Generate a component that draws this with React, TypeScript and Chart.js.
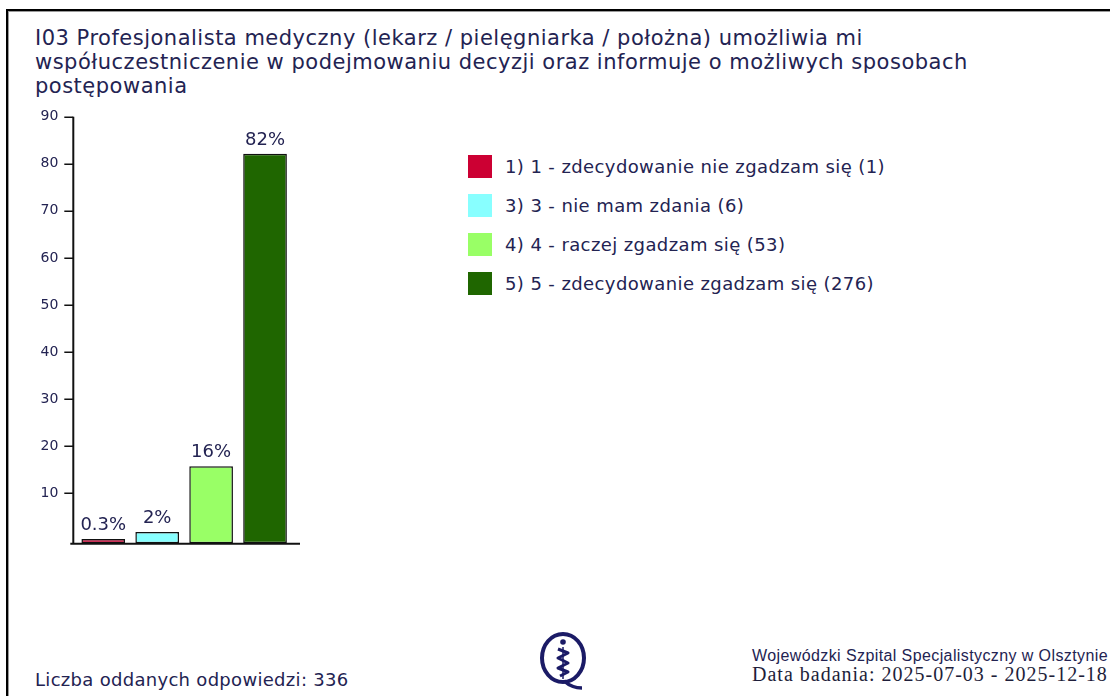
import React, { useEffect, useRef } from "react";
import { Chart, registerables } from "chart.js";

Chart.register(...registerables);

const titleLines = [
  "I03 Profesjonalista medyczny (lekarz / pielęgniarka / położna) umożliwia mi",
  "współuczestniczenie w podejmowaniu decyzji oraz informuje o możliwych sposobach",
  "postępowania",
];
const categories = [
  "1) 1 - zdecydowanie nie zgadzam się",
  "3) 3 - nie mam zdania",
  "4) 4 - raczej zgadzam się",
  "5) 5 - zdecydowanie zgadzam się",
];
const counts = [1, 6, 53, 276];
const totalResponses = 336;
const barColors = ["#cc0033", "#88ffff", "#99ff66", "#1f6600"];
const yMin = 0;
const yMax = 90;
const yStep = 10;
const barBase = -0.6;
const footerLeft = "Liczba oddanych odpowiedzi: " + totalResponses;
const footerInstitution = "Wojewódzki Szpital Specjalistyczny w Olsztynie";
const footerDate = "Data badania: 2025-07-03 - 2025-12-18";

const percents = counts.map((c) => (c / totalResponses) * 100);
const pctLabel = (p: number) => (p < 1 ? p.toFixed(1) : String(Math.round(p))) + "%";

const NAVY = "#232352";
const SANS = "'DejaVu Sans', Verdana, sans-serif";

const axesPlugin = {
  id: "axesAndLabels",
  afterDatasetsDraw(chart: any) {
    const { ctx, chartArea, scales } = chart;
    const y = scales.y;
    const axisX = chartArea.left - 3;
    const yTop = y.getPixelForValue(yMax);
    const yAxis = y.getPixelForValue(barBase) + 0.5;
    ctx.save();
    ctx.strokeStyle = "#111";
    ctx.lineWidth = 2;
    ctx.beginPath();
    ctx.moveTo(axisX, yTop);
    ctx.lineTo(axisX, yAxis);
    ctx.stroke();
    ctx.lineWidth = 1.5;
    ctx.beginPath();
    y.ticks.forEach((t: any) => {
      if (t.value === yMin) return;
      const py = Math.round(y.getPixelForValue(t.value)) + 0.25;
      ctx.moveTo(axisX - 9, py);
      ctx.lineTo(axisX, py);
    });
    ctx.stroke();
    ctx.lineWidth = 2;
    ctx.beginPath();
    ctx.moveTo(chartArea.left - 6, yAxis);
    ctx.lineTo(chartArea.right + 8, yAxis);
    ctx.stroke();

    const meta = chart.getDatasetMeta(0);
    ctx.fillStyle = NAVY;
    ctx.font = "18px " + SANS;
    ctx.textAlign = "center";
    ctx.textBaseline = "alphabetic";
    meta.data.forEach((bar: any, i: number) => {
      ctx.fillText(pctLabel(percents[i]), bar.x, bar.y - 9);
    });
    ctx.restore();
  },
};

function BarChart() {
  const ref = useRef<HTMLCanvasElement>(null);
  useEffect(() => {
    if (!ref.current) return;
    const chart = new Chart(ref.current, {
      type: "bar",
      data: {
        labels: categories,
        datasets: [
          {
            data: percents,
            base: barBase,
            clip: false,
            backgroundColor: barColors,
            borderColor: "#111",
            borderWidth: 1.5,
            borderSkipped: false,
            barPercentage: 0.81,
            categoryPercentage: 1,
          },
        ],
      },
      options: {
        responsive: false,
        animation: false,
        layout: { padding: { top: 116.7, bottom: 39.6, left: 0, right: 48 } },
        plugins: { legend: { display: false }, tooltip: { enabled: false } },
        scales: {
          x: { display: false },
          y: {
            min: yMin,
            max: yMax,
            afterFit: (s: any) => {
              s.width = 76.3;
            },
            grid: { display: false, drawTicks: false },
            border: { display: false },
            ticks: {
              stepSize: yStep,
              padding: 18,
              color: NAVY,
              font: { family: "'DejaVu Sans'", size: 14 },
              callback: (v: any) => (v === yMin ? "" : String(v)),
            },
          },
        },
      },
      plugins: [axesPlugin],
    });
    return () => chart.destroy();
  }, []);
  return (
    <canvas
      ref={ref}
      width={340}
      height={580}
      style={{ position: "absolute", left: 0, top: 0, width: 340, height: 580 }}
    />
  );
}

function Logo() {
  const c = "#1b1b66";
  return (
    <svg
      width={60}
      height={68}
      viewBox="0 0 60 68"
      style={{ position: "absolute", left: 534, top: 626 }}
    >
      <ellipse cx={29} cy={32} rx={21} ry={24} fill="none" stroke={c} strokeWidth={4} />
      <path d="M30 55 Q38 62 48 62" fill="none" stroke={c} strokeWidth={3.5} />
      <circle cx={29} cy={16} r={2.8} fill={c} />
      <path
        d="M24 23 L34 27 L24 32 L34 37 L24 42 L34 46 L26 50"
        fill="none"
        stroke={c}
        strokeWidth={3}
        strokeLinejoin="round"
      />
      <line x1={29} y1={21} x2={29} y2={53} stroke={c} strokeWidth={1.5} />
    </svg>
  );
}

export default function App() {
  return (
    <div
      style={{
        position: "fixed",
        left: 0,
        top: 0,
        width: 1110,
        height: 696,
        overflow: "hidden",
        background: "#fff",
        fontFamily: SANS,
      }}
    >
      <div
        style={{
          position: "absolute",
          left: 6,
          top: 9,
          width: 1300,
          height: 900,
          borderLeft: "2px solid #000",
          borderTop: "2px solid #000",
        }}
      >
        <div
          style={{
            position: "absolute",
            left: 0,
            top: 0,
            right: 0,
            bottom: 0,
            borderLeft: "1px solid #9a9a9a",
            borderTop: "1px solid #9a9a9a",
          }}
        />
      </div>
      <div
        style={{
          position: "absolute",
          left: 35,
          top: 26,
          fontSize: 21,
          letterSpacing: 0.5,
          lineHeight: "24px",
          color: NAVY,
          whiteSpace: "nowrap",
        }}
      >
        {titleLines.map((l, i) => (
          <div key={i}>{l}</div>
        ))}
      </div>
      <BarChart />
      <div style={{ position: "absolute", left: 468, top: 155 }}>
        {categories.map((cat, i) => (
          <div
            key={i}
            style={{ display: "flex", alignItems: "center", height: 23, marginBottom: 16 }}
          >
            <div style={{ width: 24, height: 23, background: barColors[i] }} />
            <div
              style={{
                marginLeft: 13,
                fontSize: 18,
                letterSpacing: 0.4,
                color: NAVY,
                whiteSpace: "nowrap",
              }}
            >
              {cat} ({counts[i]})
            </div>
          </div>
        ))}
      </div>
      <div
        style={{
          position: "absolute",
          left: 35,
          top: 669,
          fontSize: 18,
          letterSpacing: 0.3,
          lineHeight: "22px",
          color: NAVY,
          whiteSpace: "nowrap",
        }}
      >
        {footerLeft}
      </div>
      <Logo />
      <div
        style={{
          position: "absolute",
          left: 752,
          top: 647,
          whiteSpace: "nowrap",
        }}
      >
        <div
          style={{
            fontFamily: "'Liberation Sans', Arial, sans-serif",
            fontSize: 16,
            letterSpacing: 0.4,
            lineHeight: "18px",
            color: NAVY,
          }}
        >
          {footerInstitution}
        </div>
        <div
          style={{
            fontFamily: "'Liberation Serif', 'Times New Roman', serif",
            fontSize: 20,
            letterSpacing: 1,
            lineHeight: "18px",
            color: "#1e1e3a",
          }}
        >
          {footerDate}
        </div>
      </div>
    </div>
  );
}
